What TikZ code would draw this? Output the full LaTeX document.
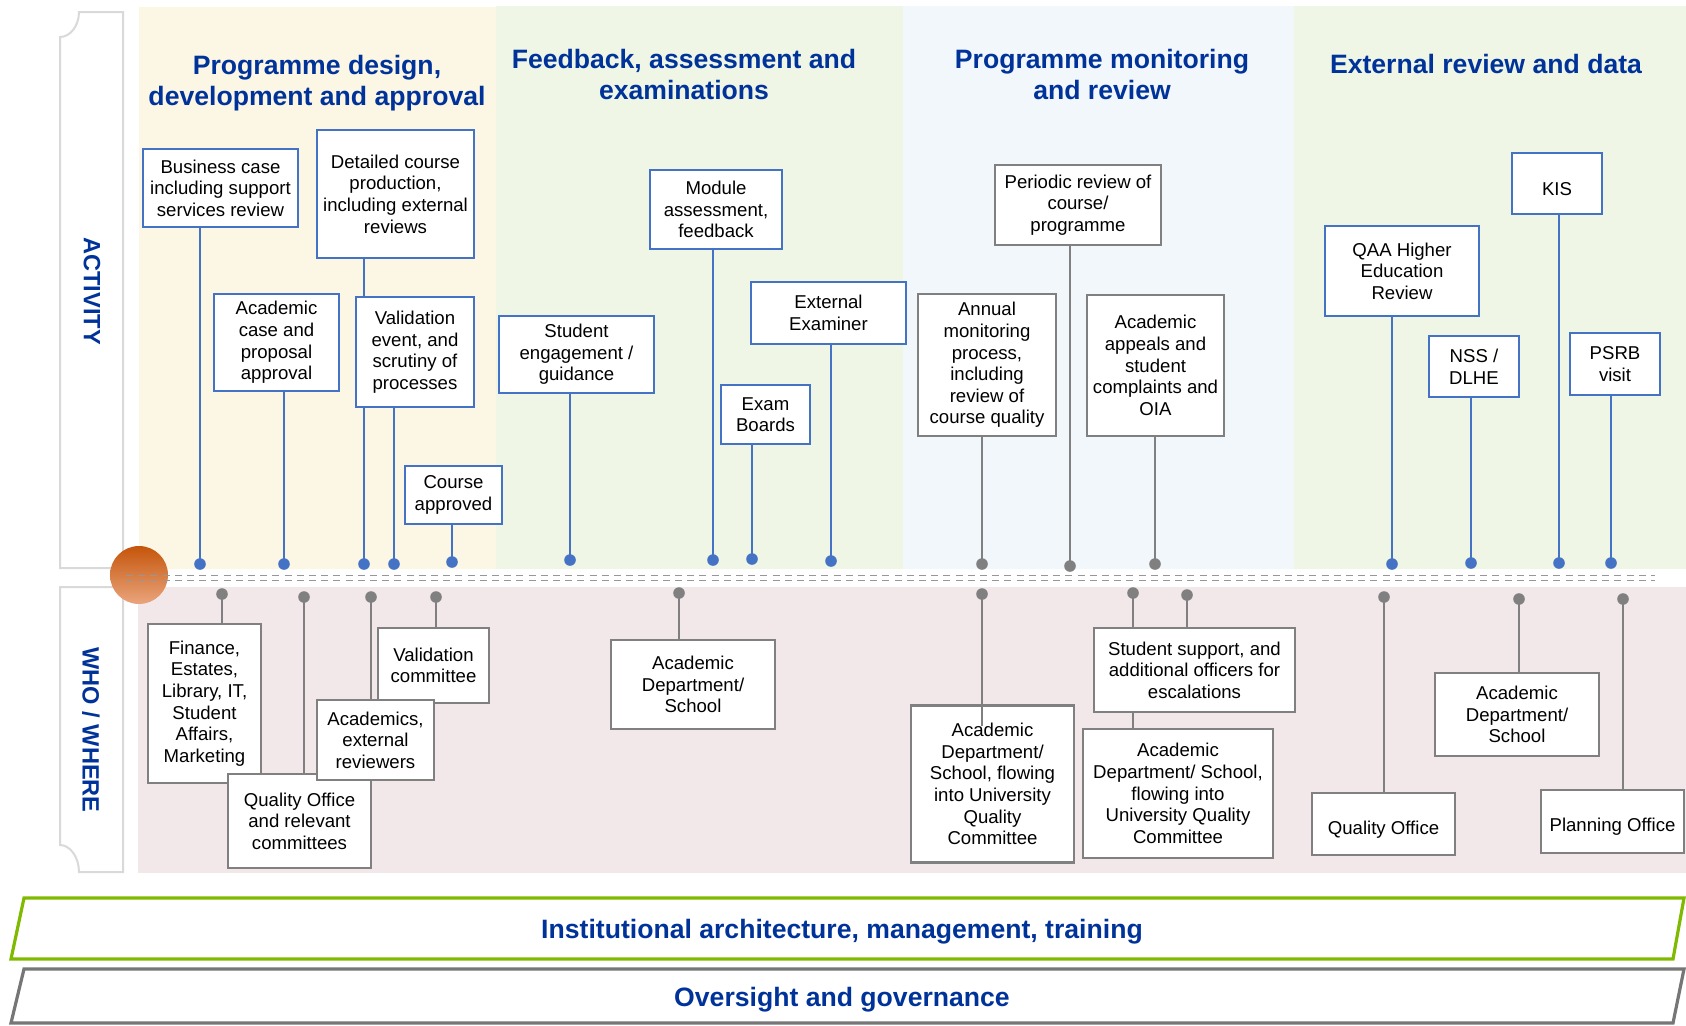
\documentclass[tikz,border=0pt]{standalone}
\usepackage{fontspec}
\setmainfont{Liberation Sans}
\usetikzlibrary{calc}

\definecolor{ttlblue}{RGB}{0,51,153}
\definecolor{actblue}{RGB}{68,114,196}
\definecolor{whogray}{RGB}{128,128,128}
\definecolor{panyellow}{RGB}{252,246,228}
\definecolor{pangreen}{RGB}{240,246,230}
\definecolor{panblue}{RGB}{242,247,252}
\definecolor{panpink}{RGB}{242,232,234}
\definecolor{tabgray}{RGB}{217,217,217}
\definecolor{dashgray}{RGB}{150,150,155}
\definecolor{bargreen}{RGB}{127,186,0}
\definecolor{bargray}{RGB}{118,118,118}
\definecolor{hubdark}{RGB}{197,85,10}
\definecolor{hublight}{RGB}{234,165,125}

\tikzset{
    boxtext/.style={align=center, inner sep=0pt, fill=white, text=black,
        font=\fontsize{9.3}{10.8}\selectfont,
        execute at begin node={\rule{0pt}{12pt}}},
    actbox/.style={boxtext, draw=actblue, line width=1pt},
    whobox/.style={boxtext, draw=whogray, line width=1.25pt},
    actline/.style={actblue, line width=1.1pt},
    wholine/.style={whogray, line width=1.25pt},
    ttl/.style={text=ttlblue, align=center, font=\fontsize{13.3}{15.5}\selectfont\bfseries},
    sidettl/.style={text=ttlblue, rotate=-90, font=\fontsize{11.8}{14}\selectfont\bfseries},
}

\begin{document}
\begin{tikzpicture}[x=0.5pt, y=-0.5pt]
    \useasboundingbox (0,0) rectangle (1686,1025);

    % Background panels
    \fill[panyellow] (139,7) rectangle (496,569);
    \fill[pangreen] (496,6) rectangle (903,569);
    \fill[panblue] (903,6) rectangle (1294,569);
    \fill[pangreen] (1294,6) rectangle (1686,569);
    \fill[panpink] (138,587) rectangle (1686,873);

    % Side tabs
    \draw[tabgray, line width=1pt, fill=white] (79,12) -- (123,12) -- (123,568) -- (60,568) -- (60,37)
        .. controls (70,37) and (79,26) .. (79,12) -- cycle;
    \draw[tabgray, line width=1pt, fill=white] (60,587) -- (123,587) -- (123,872) -- (79,872)
        .. controls (79,857) and (70,845) .. (60,845) -- cycle;
    \node[sidettl] (act) at (92,291) {ACTIVITY};
    \node[sidettl] (who) at (91,730) {WHO / WHERE};

    % Column headings
    \node[ttl] (hdesign) at (317,83) {Programme design,\\development and approval};
    \node[ttl] (hfeed) at (684,74) {Feedback, assessment and\\examinations};
    \node[ttl] (hmon) at (1102,74) {Programme monitoring\\and review};
    \node[ttl] (hext) at (1486,64) {External review and data};

    % Timeline hub and double dashed line
    \shade[top color=hubdark, bottom color=hublight] (139,575) circle (14.5pt);
    \foreach \y in {575.5, 580.5} {
        \draw[dashgray, line width=0.9pt, dash pattern=on 3.5pt off 2.6pt] (126,\y) -- (1655,\y);
    }

    % Activity boxes
    \node[actbox, minimum width=77.5pt, minimum height=39pt] (bcase) at (220.5,188) {Business case\\including support\\services review};
    \node[actbox, minimum width=78.5pt, minimum height=64pt] (detail) at (395.5,194) {Detailed course\\production,\\including external\\reviews};
    \node[actbox, minimum width=62.5pt, minimum height=48.5pt] (acase) at (276.5,342.5) {Academic\\case and\\proposal\\approval};
    \node[actbox, minimum width=59pt, minimum height=55pt] (valid) at (415,352) {Validation\\event, and\\scrutiny of\\processes};
    \node[actbox, minimum width=48.5pt, minimum height=29pt] (approved) at (453.5,495) {Course\\approved};

    \node[actbox, minimum width=77.5pt, minimum height=38.5pt] (engage) at (576.5,354.5) {Student\\engagement /\\guidance};
    \node[actbox, minimum width=66pt, minimum height=39.5pt] (module) at (716,209.5) {Module\\assessment,\\feedback};
    \node[actbox, minimum width=44.5pt, minimum height=29.5pt] (exam) at (765.5,414.5) {Exam\\Boards};
    \node[actbox, minimum width=77.5pt, minimum height=31pt] (extexam) at (828.5,313) {External\\Examiner};

    \node[whobox, minimum width=69pt, minimum height=71pt] (annual) at (987,365) {Annual\\monitoring\\process,\\including\\review of\\course quality};
    \node[whobox, minimum width=83pt, minimum height=40pt] (periodic) at (1078,205) {Periodic review of\\course/\\programme};
    \node[whobox, minimum width=68.5pt, minimum height=70.5pt] (appeals) at (1155.5,365.5) {Academic\\appeals and\\student\\complaints and\\OIA};

    \node[actbox, minimum width=77pt, minimum height=45pt] (qaa) at (1402,271) {QAA Higher\\Education\\Review};
    \node[actbox, minimum width=45pt, minimum height=30.5pt] (kis) at (1557,183.5) {KIS};
    \node[actbox, minimum width=45pt, minimum height=30.5pt] (nss) at (1474,366.5) {NSS /\\DLHE};
    \node[actbox, minimum width=45pt, minimum height=31pt] (psrb) at (1615,364) {PSRB\\visit};

    % Activity connectors down to the timeline
    \foreach \b/\x/\y in {bcase/200/564, acase/284/564, valid/394/564, approved/452/562,
                          engage/570/560, module/713/560, exam/752/559, extexam/831/561,
                          qaa/1392/564, nss/1471/563, kis/1559/563, psrb/1611/563} {
        \coordinate (\b-d) at (\x,\y);
        \draw[actline] (\b.south -| \b-d) -- (\b-d);
        \fill[actblue] (\b-d) circle (2.9pt);
    }
    \coordinate (detail-d) at (364,564);
    \draw[actline] (detail.south -| detail-d) -- (valid.north -| detail-d);
    \draw[actline] (valid.south -| detail-d) -- (detail-d);
    \fill[actblue] (detail-d) circle (2.9pt);

    \foreach \b/\x/\y in {annual/982/564, periodic/1070/566, appeals/1155/564} {
        \coordinate (\b-d) at (\x,\y);
        \draw[wholine] (\b.south -| \b-d) -- (\b-d);
        \fill[whogray] (\b-d) circle (2.9pt);
    }

    % Who / where boxes
    \node[whobox, minimum width=56.5pt, minimum height=79.5pt] (finance) at (204.5,703.5) {Finance,\\Estates,\\Library, IT,\\Student\\Affairs,\\Marketing};
    \node[whobox, minimum width=71.5pt, minimum height=47pt] (qoff) at (299.5,821) {Quality Office\\and relevant\\committees};
    \node[whobox, minimum width=55.5pt, minimum height=37.5pt] (valcom) at (433.5,665.5) {Validation\\committee};
    \node[whobox, minimum width=58.5pt, minimum height=40pt] (acads) at (375.5,740) {Academics,\\external\\reviewers};

    \node[whobox, minimum width=82pt, minimum height=44.5pt] (acdept) at (693,684.5) {Academic\\Department/\\School};
    \node[whobox, minimum width=81.5pt, minimum height=78.5pt] (acflow) at (992.5,784) {Academic\\Department/\\School, flowing\\into University\\Quality\\Committee};

    \node[whobox, minimum width=100.5pt, minimum height=42pt] (support) at (1194.5,670) {Student support, and\\additional officers for\\escalations};
    \node[whobox, minimum width=95pt, minimum height=64.5pt] (acflowb) at (1178,793.5) {Academic\\Department/ School,\\flowing into\\University Quality\\Committee};

    \node[whobox, minimum width=71.5pt, minimum height=31pt] (qoffb) at (1383.5,824) {Quality Office};
    \node[whobox, minimum width=82pt, minimum height=41.5pt] (acdeptb) at (1517,714.5) {Academic\\Department/\\School};
    \node[whobox, minimum width=71.5pt, minimum height=31.5pt] (planning) at (1612.5,821.5) {Planning Office};

    % Who / where connectors up to the timeline
    \foreach \b/\x/\y in {finance/222/594, qoff/304/597, acads/371/597, valcom/436/597,
                          acdept/679/593, support/1187/595, qoffb/1384/597,
                          acdeptb/1519/599, planning/1623/599} {
        \coordinate (\b-u) at (\x,\y);
        \draw[wholine] (\b-u) -- (\b.north -| \b-u);
        \fill[whogray] (\b-u) circle (2.9pt);
    }
    \coordinate (acflow-u) at (982,594);
    \draw[wholine] (acflow-u) -- (acflow.north -| acflow-u) -- ++(0,22);
    \fill[whogray] (acflow-u) circle (2.9pt);
    \coordinate (acflowb-u) at (1133,593);
    \draw[wholine] (acflowb-u) -- (support.north -| acflowb-u);
    \draw[wholine] (support.south -| acflowb-u) -- (acflowb.north -| acflowb-u);
    \fill[whogray] (acflowb-u) circle (2.9pt);

    % Foundation bars
    \draw[bargreen, line width=1.6pt, fill=white] (24,898) -- (1684,898) -- (1673,959) -- (11,959) -- cycle;
    \node[ttl] (infra) at (842,932) {Institutional architecture, management, training};
    \draw[bargray, line width=1.6pt, fill=white] (24,969) -- (1684,969) -- (1673,1023) -- (11,1023) -- cycle;
    \node[ttl] (gov) at (842,1000) {Oversight and governance};
\end{tikzpicture}
\end{document}
